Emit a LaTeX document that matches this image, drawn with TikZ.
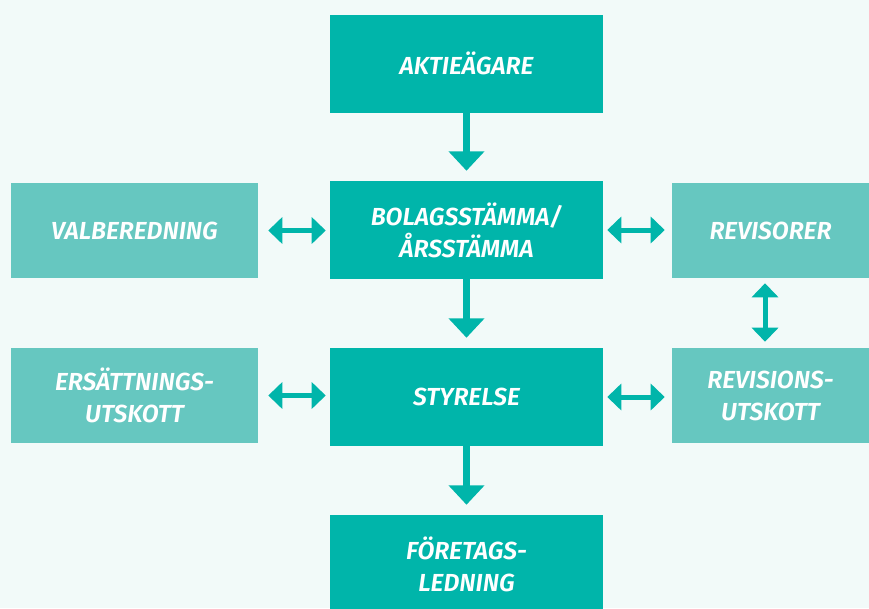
\documentclass[tikz,border=0pt]{standalone}
\usepackage{fontspec}
\setmainfont{Fira Sans}[BoldFont={Fira Sans SemiBold}, BoldItalicFont={Fira Sans SemiBold Italic}]
\usetikzlibrary{arrows.meta, positioning}

\begin{document}
\begin{tikzpicture}[x=0.75pt, y=-0.75pt,
    every node/.style={font=\fontsize{18.5}{24}\selectfont\bfseries\itshape, text=white, align=center, inner sep=0pt},
    mainbox/.style={fill=tealdark, minimum width=204.75pt, minimum height=73.5pt},
    sidebox/.style={fill=teallight, minimum width=185.25pt, minimum height=71.25pt},
    flow/.style={tealdark, line width=5pt, -{Triangle[length=14.6pt, width=26.25pt]}},
    link/.style={tealdark, line width=3.75pt, {Triangle[length=10.5pt, width=19.5pt]}-{Triangle[length=10.5pt, width=19.5pt]}}]

% --- COLOURS ---
\definecolor{tealdark}{RGB}{0, 181, 170}     % main chain
\definecolor{teallight}{RGB}{102, 199, 192}  % side boxes
\definecolor{bgmint}{RGB}{242, 250, 249}     % page

% --- BACKGROUND ---
\fill[bgmint] (0,0) rectangle (869,608);
\useasboundingbox (0,0) rectangle (869,608);

% --- MAIN CHAIN (Middle) ---
\node[mainbox] (aktie)    at (466.5, 63.5) {AKTIEÄGARE};
\node[mainbox] (bolag)    at (466.5, 230)  {BOLAGSSTÄMMA/\\ÅRSSTÄMMA};
\node[mainbox] (styrelse) at (466.5, 397)  {STYRELSE};
\node[mainbox] (ledning)  at (466.5, 564)  {FÖRETAGS-\\LEDNING};

% --- COMMITTEES (Left) ---
\node[sidebox] (valb)   at (134.5, 230.5) {VALBEREDNING};
\node[sidebox] (ersatt) at (134.5, 395.5) {ERSÄTTNINGS-\\UTSKOTT};

% --- AUDIT (Right) ---
\node[sidebox, minimum width=147.75pt] (revisorer) at (770.5, 230.5) {REVISORER};
\node[sidebox, minimum width=147.75pt] (revutsk)   at (770.5, 395.5) {REVISIONS-\\UTSKOTT};

% --- ARROWS ---
\draw[flow, shorten >=7.5pt] (aktie.south) -- (bolag.north);
\draw[flow, shorten >=7.5pt] (bolag.south) -- (styrelse.north);
\draw[flow, shorten >=7.5pt] (styrelse.south) -- (ledning.north);

\draw[link, shorten <=7.5pt, shorten >=3pt] (valb.east) -- (valb.east -| bolag.west);
\draw[link, shorten <=7.5pt, shorten >=3pt] (ersatt.east) -- (ersatt.east -| styrelse.west);
\draw[link, shorten <=3pt, shorten >=5.25pt] (bolag.east) -- (bolag.east -| revisorer.west);
\draw[link, shorten <=3pt, shorten >=5.25pt] (styrelse.east) -- (styrelse.east -| revutsk.west);
\draw[link, shorten <=3.75pt, shorten >=4.5pt] ([xshift=-4.1pt]revisorer.south) -- ([xshift=-4.1pt]revutsk.north);

\end{tikzpicture}
\end{document}
